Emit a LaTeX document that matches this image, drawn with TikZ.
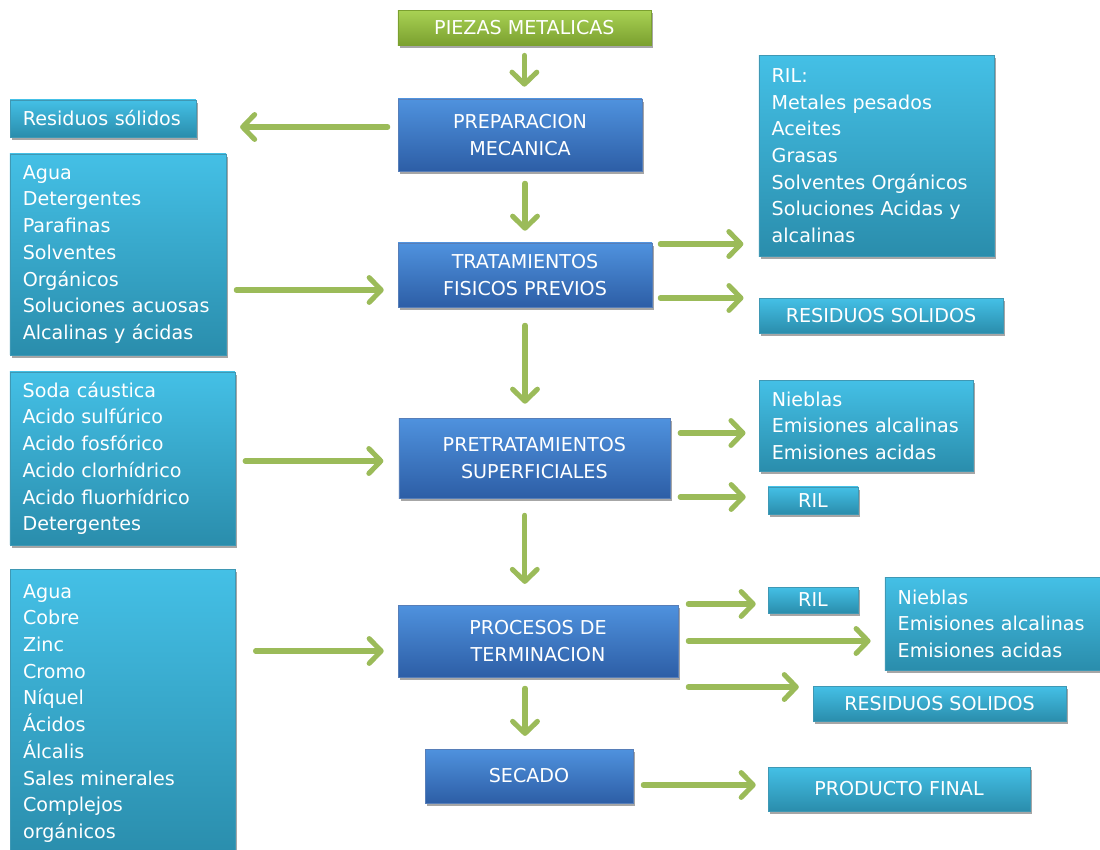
\documentclass[tikz,border=0pt]{standalone}
\usepackage{fontspec}
\setmainfont{DejaVu Sans}
\usepackage{xcolor}
\usetikzlibrary{positioning,arrows.meta,shadows}
\definecolor{aquatop}{HTML}{44C0E6}
\definecolor{aquabot}{HTML}{2A8DAC}
\definecolor{bluetop}{HTML}{4F92DE}
\definecolor{bluebot}{HTML}{2D5EA6}
\definecolor{greentop}{HTML}{A9D254}
\definecolor{greenbot}{HTML}{7BA02F}
\definecolor{arrowgreen}{HTML}{9BBB59}

\begin{document}
\begin{tikzpicture}[
  node/.style={text=white, inner sep=2pt, font=\fontsize{13.6pt}{19pt}\selectfont,
    drop shadow={shadow xshift=0.05cm, shadow yshift=-0.07cm, opacity=0.35, fill=black}},
  stage/.style={node, align=center, top color=bluetop, bottom color=bluebot, draw=bluebot!80!white, line width=0.4pt},
  start/.style={node, align=center, top color=greentop, bottom color=greenbot, draw=greenbot, line width=0.4pt},
  box/.style={node, align=center, top color=aquatop, bottom color=aquabot, draw=aquabot!90!white, line width=0.4pt},
  list/.style={box, align=left, inner xsep=0.32cm},
  arrow/.style={draw=arrowgreen, line width=3.6pt, line cap=round,
    -{Straight Barb[length=0.3cm, width=0.62cm, round]}},
]
\clip (0,0) rectangle (27.5,-21.25);
\node[start, minimum width=6.325cm, minimum height=0.875cm] (piezas) at (13.11,-0.69) {PIEZAS METALICAS};
\node[stage, minimum width=6.1cm, minimum height=1.8cm] (prep) at (13.0,-3.375) {PREPARACION\\MECANICA};
\node[stage, minimum width=6.35cm, minimum height=1.6cm] (trat) at (13.125,-6.875) {TRATAMIENTOS\\FISICOS PREVIOS};
\node[stage, minimum width=6.775cm, minimum height=2.0cm] (pret) at (13.36,-11.45) {PRETRATAMIENTOS\\SUPERFICIALES};
\node[stage, minimum width=7.0cm, minimum height=1.8cm] (proc) at (13.45,-16.025) {PROCESOS DE\\TERMINACION};
\node[stage, minimum width=5.2cm, minimum height=1.35cm] (secado) at (13.225,-19.4) {SECADO};
\node[list, text width=4.0cm, minimum height=0.925cm] (ressol) at (2.575,-2.96) {Residuos sólidos};
\node[list, text width=4.76cm, minimum height=5.025cm] (aguaA) at (2.95,-6.36) {Agua\\Detergentes\\Parafinas\\Solventes\\Orgánicos\\Soluciones acuosas\\Alcalinas y ácidas};
\node[list, text width=4.985cm, minimum height=4.325cm] (soda) at (3.06,-11.46) {Soda cáustica\\Acido sulfúrico\\Acido fosfórico\\Acido clorhídrico\\Acido fluorhídrico\\Detergentes};
\node[list, text width=4.985cm, minimum height=7.2cm, anchor=north west] (aguaB) at (0.25,-14.225) {Agua\\Cobre\\Zinc\\Cromo\\Níquel\\Ácidos\\Álcalis\\Sales minerales\\Complejos\\orgánicos};
\node[list, text width=5.235cm, minimum height=5.025cm] (rilA) at (21.91,-3.89) {RIL:\\Metales pesados\\Aceites\\Grasas\\Solventes Orgánicos\\Soluciones Acidas y\\alcalinas};
\node[box, minimum width=6.1cm, minimum height=0.875cm] (resA) at (22.025,-7.89) {RESIDUOS SOLIDOS};
\node[list, text width=4.71cm, minimum height=2.275cm] (niebA) at (21.65,-10.64) {Nieblas\\Emisiones alcalinas\\Emisiones acidas};
\node[box, minimum width=2.25cm, minimum height=0.675cm] (rilB) at (20.325,-12.51) {RIL};
\node[box, minimum width=2.25cm, minimum height=0.65cm] (rilC) at (20.325,-15.0) {RIL};
\node[list, text width=4.735cm, minimum height=2.325cm] (niebB) at (24.81,-15.59) {Nieblas\\Emisiones alcalinas\\Emisiones acidas};
\node[box, minimum width=6.325cm, minimum height=0.875cm] (resB) at (23.49,-17.59) {RESIDUOS SOLIDOS};
\node[box, minimum width=6.55cm, minimum height=1.1cm] (prod) at (22.475,-19.725) {PRODUCTO FINAL};
\draw[arrow, shorten <=0.25cm, shorten >=0.3cm] (piezas.south) -- (piezas.south |- prep.north);
\draw[arrow, shorten <=0.25cm, shorten >=1.1cm] ([yshift=0.2cm]prep.west) -- ([yshift=0.2cm]prep.west -| ressol.east);
\draw[arrow, shorten <=0.3cm, shorten >=0.3cm] (trat.north |- prep.south) -- (trat.north);
\draw[arrow, shorten <=0.25cm, shorten >=0.35cm] ([yshift=-0.375cm]trat.west -| aguaA.east) -- ([yshift=-0.375cm]trat.west);
\draw[arrow, shorten <=0.2cm, shorten >=0.38cm] ([yshift=0.775cm]trat.east) -- ([yshift=0.775cm]trat.east -| rilA.west);
\draw[arrow, shorten <=0.2cm, shorten >=0.38cm] ([yshift=-0.575cm]trat.east) -- ([yshift=-0.575cm]trat.east -| resA.west);
\draw[arrow, shorten <=0.45cm, shorten >=0.35cm] (trat.south) -- (trat.south |- pret.north);
\draw[arrow, shorten <=0.25cm, shorten >=0.38cm] ([yshift=-0.075cm]pret.west -| soda.east) -- ([yshift=-0.075cm]pret.west);
\draw[arrow, shorten <=0.25cm, shorten >=0.33cm] ([yshift=0.625cm]pret.east) -- ([yshift=0.625cm]pret.east -| niebA.west);
\draw[arrow, shorten <=0.25cm, shorten >=0.55cm] ([yshift=-0.975cm]pret.east) -- ([yshift=-0.975cm]pret.east -| rilB.west);
\draw[arrow, shorten <=0.425cm, shorten >=0.52cm] ([xshift=-0.24cm]pret.south) -- ([xshift=-0.24cm]pret.south |- proc.north);
\draw[arrow, shorten <=0.5cm, shorten >=0.35cm] ([yshift=-0.25cm]proc.west -| aguaB.east) -- ([yshift=-0.25cm]proc.west);
\draw[arrow, shorten <=0.25cm, shorten >=0.3cm] ([yshift=0.925cm]proc.east) -- ([yshift=0.925cm]proc.east -| rilC.west);
\draw[arrow, shorten <=0.25cm, shorten >=0.35cm] (proc.east) -- (proc.east -| niebB.west);
\draw[arrow, shorten <=0.25cm, shorten >=0.35cm] ([yshift=-1.15cm]proc.east) -- ([yshift=-1.15cm]proc.east -| resB.west);
\draw[arrow, shorten <=0.275cm, shorten >=0.32cm] ([xshift=-0.1cm]secado.north |- proc.south) -- ([xshift=-0.1cm]secado.north);
\draw[arrow, shorten <=0.25cm, shorten >=0.3cm] ([yshift=-0.225cm]secado.east) -- ([yshift=-0.225cm]secado.east -| prod.west);
\end{tikzpicture}
\end{document}
